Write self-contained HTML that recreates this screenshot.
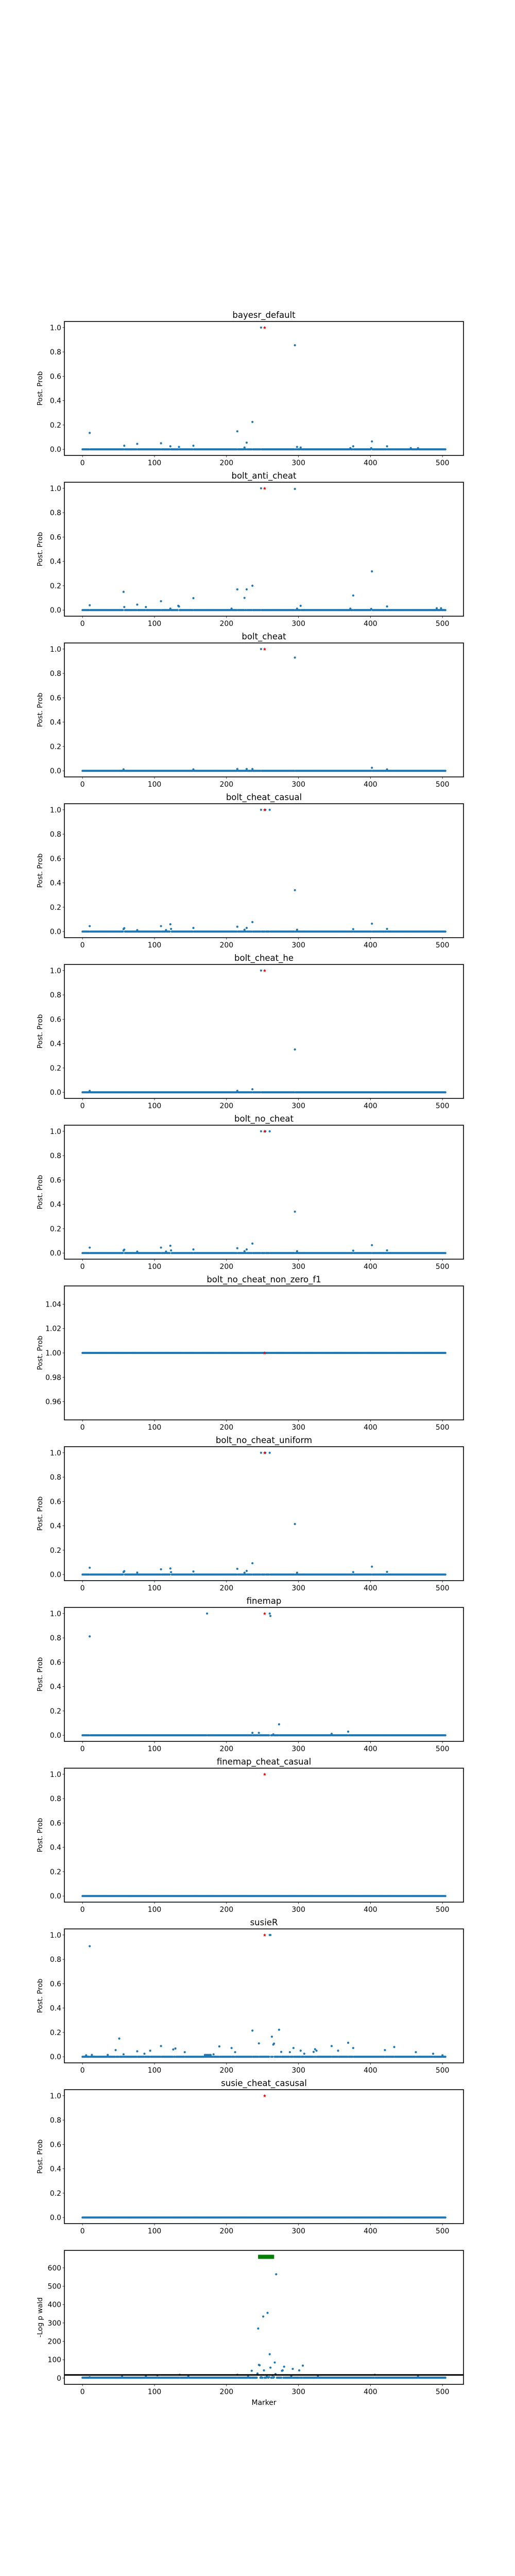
<!DOCTYPE html>
<html><head><meta charset="utf-8">
<style>
html,body{margin:0;padding:0;background:#fff;width:1000px;height:5200px;overflow:hidden;}
svg{display:block;position:absolute;left:0;top:0;font-family:"DejaVu Sans","Liberation Sans",sans-serif;}
</style></head>
<body>
<svg id="fig" width="1000" height="5200" viewBox="0 0 1000 5200" xmlns="http://www.w3.org/2000/svg"></svg>
<script>
// ---- data ----
const nMarkers = 505;
const causalIndex = 253;
const panelTitles = ["bayesr_default","bolt_anti_cheat","bolt_cheat","bolt_cheat_casual","bolt_cheat_he","bolt_no_cheat","bolt_no_cheat_non_zero_f1","bolt_no_cheat_uniform","finemap","finemap_cheat_casual","susieR","susie_cheat_casusal"];
const probTicks = [0.0,0.2,0.4,0.6,0.8,1.0];
const probTickLabels = ["0.0","0.2","0.4","0.6","0.8","1.0"];
const flatTicks = [0.96,0.98,1.00,1.02,1.04];
const flatTickLabels = ["0.96","0.98","1.00","1.02","1.04"];
const xTicks = [0,100,200,300,400,500];
const xTickLabels = ["0","100","200","300","400","500"];
const logTicks = [0,100,200,300,400,500,600];
const logTickLabels = ["0","100","200","300","400","500","600"];

const bayesrIdx = [10,58,76,109,122,134,154,215,225,228,236,248,295,298,303,372,376,401,402,423,456,466];
const bayesrVal = [0.135,0.03,0.045,0.05,0.025,0.02,0.03,0.148,0.015,0.055,0.225,1.0,0.855,0.02,0.015,0.01,0.025,0.01,0.065,0.025,0.01,0.01];
const antiIdx = [10,57,58,76,88,109,122,133,134,154,207,215,225,228,236,248,295,298,303,372,376,401,402,423,492,498];
const antiVal = [0.04,0.15,0.025,0.045,0.025,0.073,0.012,0.035,0.03,0.098,0.012,0.17,0.1,0.17,0.2,1.0,0.995,0.012,0.035,0.012,0.12,0.01,0.318,0.03,0.015,0.015];
const cheatIdx = [57,154,215,228,236,248,295,402,423];
const cheatVal = [0.012,0.012,0.015,0.015,0.015,1.0,0.93,0.025,0.012];
const casualIdx = [10,57,58,76,109,116,122,123,154,215,225,228,236,248,254,260,295,298,376,402,423];
const casualVal = [0.045,0.02,0.028,0.012,0.045,0.012,0.06,0.022,0.03,0.04,0.015,0.03,0.078,1.0,1.0,1.0,0.34,0.015,0.02,0.065,0.022];
const heIdx = [10,215,236,248,295];
const heVal = [0.012,0.012,0.025,1.0,0.352];
const noCheatIdx = [10,57,58,76,109,116,122,123,154,215,225,228,236,248,254,260,295,298,376,402,423];
const noCheatVal = [0.045,0.02,0.028,0.012,0.045,0.012,0.06,0.022,0.03,0.04,0.015,0.03,0.078,1.0,1.0,1.0,0.34,0.015,0.02,0.065,0.022];
const uniformIdx = [10,57,58,76,109,122,123,154,215,225,228,236,248,254,260,295,298,376,402,423];
const uniformVal = [0.056,0.02,0.028,0.016,0.043,0.05,0.02,0.025,0.047,0.015,0.03,0.093,1.0,1.0,1.0,0.415,0.015,0.02,0.065,0.022];
const finemapIdx = [10,173,236,245,260,261,265,273,346,369];
const finemapVal = [0.812,1.0,0.02,0.02,1.0,0.98,0.008,0.09,0.012,0.03];
const susieIdx = [5,10,13,35,46,51,57,76,86,94,109,126,129,142,170,172,174,176,178,182,190,207,212,236,245,260,261,263,265,266,273,276,288,293,303,308,321,323,325,346,355,369,376,420,433,463,487,500];
const susieVal = [0.012,0.908,0.015,0.015,0.055,0.15,0.02,0.045,0.025,0.05,0.088,0.06,0.068,0.038,0.015,0.015,0.015,0.015,0.015,0.02,0.085,0.072,0.038,0.215,0.11,1.0,1.0,0.165,0.1,0.108,0.222,0.04,0.038,0.072,0.05,0.025,0.04,0.062,0.05,0.088,0.05,0.115,0.072,0.055,0.08,0.038,0.025,0.012];
const logpIdx = [10,55,88,104,135,147,215,230,235,243,244,245,246,248,251,252,256,257,259,260,261,264,266,267,268,269,277,278,280,290,292,301,306,327,406,466];
const logpVal = [5,8,12,15,18,10,18,8,40,25,270,72,70,5,335,42,8,355,5,130,57,15,5,85,22,565,40,42,62,12,50,42,68,12,18,8];
const logpThreshold = 17;
const signalStart = 246, signalEnd = 264, signalLevel = 660;

const panelIdx = [bayesrIdx,antiIdx,cheatIdx,casualIdx,heIdx,noCheatIdx,null,uniformIdx,finemapIdx,[],susieIdx,[]];
const panelVal = [bayesrVal,antiVal,cheatVal,casualVal,heVal,noCheatVal,null,uniformVal,finemapVal,[],susieVal,[]];

// ---- drawing ----
const NS = "http://www.w3.org/2000/svg";
const svg = document.getElementById("fig");
const L = 125, R = 900, PH = 260, TOP0 = 624, STEP = 312;
const xmin = -25.2, xmax = 529.2;
function xs(v){ return L + (v - xmin) / (xmax - xmin) * (R - L); }
function mk(tag, attrs, parent){
  const e = document.createElementNS(NS, tag);
  for (const k in attrs) e.setAttribute(k, attrs[k]);
  (parent || svg).appendChild(e);
  return e;
}
function txt(s, attrs, parent){ const e = mk("text", attrs, parent); e.textContent = s; return e; }

function drawPanel(p, title, ymin, ymax, ticks, tickLabels, ylabel, getVal, isLog){
  const top = TOP0 + STEP * p, bot = top + PH;
  const ys = v => bot - (v - ymin) / (ymax - ymin) * PH;
  const g = mk("g", {});
  
  
  if (title) {
    const t = txt(title, {x:(L+R)/2, y:top-7, "text-anchor":"middle", "font-size":"16.5"}, g);
    
    
  }
  const yl = txt(ylabel, {x:0, y:0, "text-anchor":"middle", "font-size":"13.5", transform:"translate(82," + (top+PH/2) + ") rotate(-90)"}, g);
  
  
  ticks.forEach((tv, i) => {
    const y = ys(tv);
    mk("line", {x1:L-3.5, x2:L, y1:y, y2:y, stroke:"#000", "stroke-width":"0.8"}, g);
    const t = txt(tickLabels[i], {x:L-6, y:y+5, "text-anchor":"end", "font-size":"13.9"}, g);
    
    
  });
  xTicks.forEach((tv, i) => {
    const x = xs(tv);
    mk("line", {x1:x, x2:x, y1:bot, y2:bot+3.5, stroke:"#000", "stroke-width":"0.8"}, g);
    const t = txt(xTickLabels[i], {x:x, y:bot+19, "text-anchor":"middle", "font-size":"13.9"}, g);
    
    
  });
  const pts = mk("g", {fill:"#1f77b4"}, g);
  
  
  for (let i = 0; i < nMarkers; i++) {
    mk("circle", {cx:xs(i), cy:ys(getVal(i)), r:"2.1"}, pts);
  }
  if (isLog) {
    const th = mk("line", {x1:L, x2:R, y1:ys(logpThreshold), y2:ys(logpThreshold), stroke:"#000", "stroke-width":"3"}, g);
    
    
    const sg = mk("g", {fill:"#008000"}, g);
    
    
    for (let i = signalStart; i <= signalEnd; i++) {
      mk("rect", {x:xs(i)-3, y:ys(signalLevel)-4, width:6, height:8}, sg);
    }
  } else {
    const rx = xs(causalIndex), ry = ys(1.0);
    const s = mk("path", {d:`M${rx},${ry-3.2} L${rx+1},${ry-1} L${rx+3},${ry-1} L${rx+1.5},${ry+0.6} L${rx+2},${ry+3} L${rx},${ry+1.6} L${rx-2},${ry+3} L${rx-1.5},${ry+0.6} L${rx-3},${ry-1} L${rx-1},${ry-1} Z`, fill:"#ff0000"}, g);
    
    
  }
  const fr = mk("rect", {x:L, y:top, width:R-L, height:PH, fill:"none", stroke:"#000", "stroke-width":"1.6"}, g);
  
  
}

panelTitles.forEach((title, p) => {
  if (panelIdx[p] === null) {
    drawPanel(p, title, 0.945, 1.055, flatTicks, flatTickLabels, "Post. Prob", () => 1.0, false);
  } else {
    const idx = panelIdx[p], val = panelVal[p];
    drawPanel(p, title, -0.05, 1.05, probTicks, probTickLabels, "Post. Prob", i => {
      const k = idx.indexOf(i); return k >= 0 ? val[k] : 0;
    }, false);
  }
});
drawPanel(12, "", -34, 695, logTicks, logTickLabels, "-Log p wald", i => {
  const k = logpIdx.indexOf(i); return k >= 0 ? logpVal[k] : 2;
}, true);
const xl = txt("Marker", {x:(L+R)/2, y:4668, "text-anchor":"middle", "font-size":"13.9"});


</script>
</body></html>
